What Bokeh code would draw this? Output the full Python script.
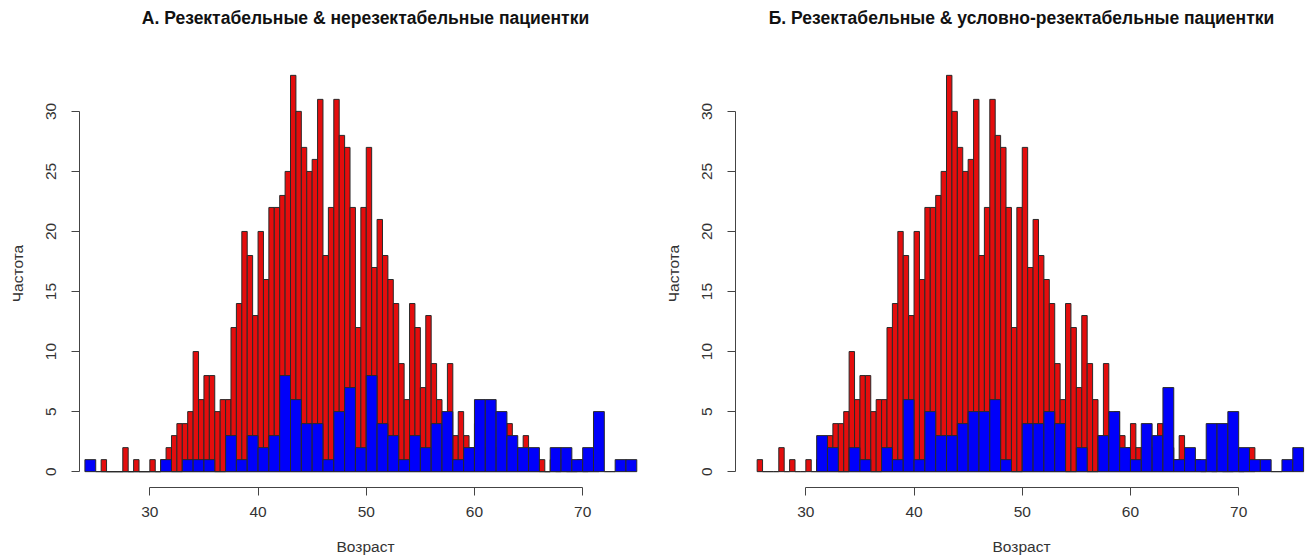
import numpy as np
from bokeh.plotting import figure
from bokeh.layouts import row
from bokeh.models import FixedTicker, Range1d, Title
from bokeh.embed import file_html
from bokeh.resources import INLINE

# Ages of resectable patients: 0.5-year bins starting at 25.5
red_start = 25.5
red_width = 0.5
red_counts = [
    1, 0, 0, 0, 2, 0, 1, 0, 0, 1,
    0, 1, 2, 3, 4, 4, 5, 10, 6, 8,
    8, 5, 6, 6, 12, 14, 20, 18, 13, 20,
    16, 22, 22, 23, 25, 33, 30, 27, 25, 26,
    31, 18, 22, 31, 28, 27, 22, 12, 22, 27,
    17, 21, 18, 16, 14, 9, 6, 14, 12, 7,
    13, 9, 6, 3, 9, 3, 5, 3, 2, 4,
    2, 2, 2, 2, 4, 4, 2, 1, 3, 1,
    1, 1, 0, 1, 0, 1, 0, 0, 1, 0,
    1, 2,
]

# Non-resectable patients (panel A): 1-year bins starting at 24
blue_width = 1.0
blue_a_start = 24
blue_a_counts = [
    1, 0, 0, 0, 0, 0, 0, 1, 0, 1,
    1, 1, 0, 3, 1, 3, 2, 3, 8, 6,
    4, 4, 1, 5, 7, 2, 8, 4, 3, 1,
    3, 2, 4, 5, 1, 2, 6, 6, 5, 3,
    2, 2, 0, 2, 2, 1, 2, 5, 0, 1,
    1,
]

# Borderline-resectable patients (panel B): 1-year bins starting at 31
blue_b_start = 31
blue_b_counts = [
    3, 2, 0, 2, 1, 0, 2, 1, 6, 1,
    5, 3, 3, 4, 5, 5, 6, 1, 0, 4,
    4, 5, 4, 0, 2, 0, 3, 5, 2, 1,
    4, 3, 7, 1, 2, 1, 4, 4, 5, 2,
    1, 1, 0, 1, 2,
]

x_ticks = [30, 40, 50, 60, 70]
y_ticks = [0, 5, 10, 15, 20, 25, 30]

title_a = "А. Резектабельные & нерезектабельные пациентки"
title_b = "Б. Резектабельные & условно-резектабельные пациентки"
x_label = "Возраст"
y_label = "Частота"

FONT = "Liberation Sans"
RED = "#E40D0D"
BLUE = "#0000FA"
EDGE = "#2a2a2a"
TEXT = "#333333"


def bins(start, width, counts):
    counts = np.asarray(counts, dtype=float)
    left = start + width * np.arange(len(counts))
    return dict(left=left, right=left + width, top=counts, bottom=np.zeros_like(counts))


def panel(title, blue_start, blue_counts, width, border_left, border_right):
    p = figure(
        width=width, height=557,
        x_range=Range1d(23.5, 76.36), y_range=Range1d(-1.32, 34.32),
        output_backend="svg", toolbar_location=None,
        min_border_left=border_left, min_border_right=border_right,
        min_border_top=58, min_border_bottom=70,
    )
    p.title.text = title
    p.title.align = "center"
    p.title.text_font = FONT
    p.title.text_font_size = "17.5px"
    p.title.text_font_style = "bold"
    p.title.text_color = "#111111"

    # empty strip between the heading and the plotting area
    p.add_layout(Title(text="\u00a0", text_font_size="1px", standoff=24), "above")

    p.quad(**bins(red_start, red_width, red_counts),
           fill_color=RED, line_color=EDGE, line_width=1)
    p.quad(**bins(blue_start, blue_width, blue_counts),
           fill_color=BLUE, line_color=EDGE, line_width=1)

    p.xgrid.visible = False
    p.ygrid.visible = False
    p.outline_line_color = None
    p.background_fill_color = "white"
    p.border_fill_color = "white"

    for ax in (p.xaxis[0], p.yaxis[0]):
        ax.axis_line_color = "#444444"
        ax.major_tick_line_color = "#444444"
        ax.major_tick_out = 8
        ax.major_tick_in = 0
        ax.minor_tick_line_color = None
        ax.major_label_text_font = FONT
        ax.major_label_text_font_size = "15.5px"
        ax.major_label_text_color = TEXT
        ax.axis_label_text_font = FONT
        ax.axis_label_text_font_size = "15.5px"
        ax.axis_label_text_font_style = "normal"
        ax.axis_label_text_color = TEXT

    xa = p.xaxis[0]
    xa.ticker = FixedTicker(ticks=x_ticks)
    xa.bounds = (x_ticks[0], x_ticks[-1])
    xa.major_label_standoff = 11
    xa.axis_label = x_label
    xa.axis_label_standoff = 18

    ya = p.yaxis[0]
    ya.ticker = FixedTicker(ticks=y_ticks)
    ya.bounds = (y_ticks[0], y_ticks[-1])
    ya.major_label_orientation = "vertical"
    ya.major_label_standoff = 15
    ya.axis_label = y_label
    ya.axis_label_standoff = 18
    return p


pa = panel(title_a, blue_a_start, blue_a_counts, 655, 79, 4)
pb = panel(title_b, blue_b_start, blue_b_counts, 654, 80, 2)

layout = row(pa, pb)
open("out.html", "w").write(file_html(layout, INLINE))
